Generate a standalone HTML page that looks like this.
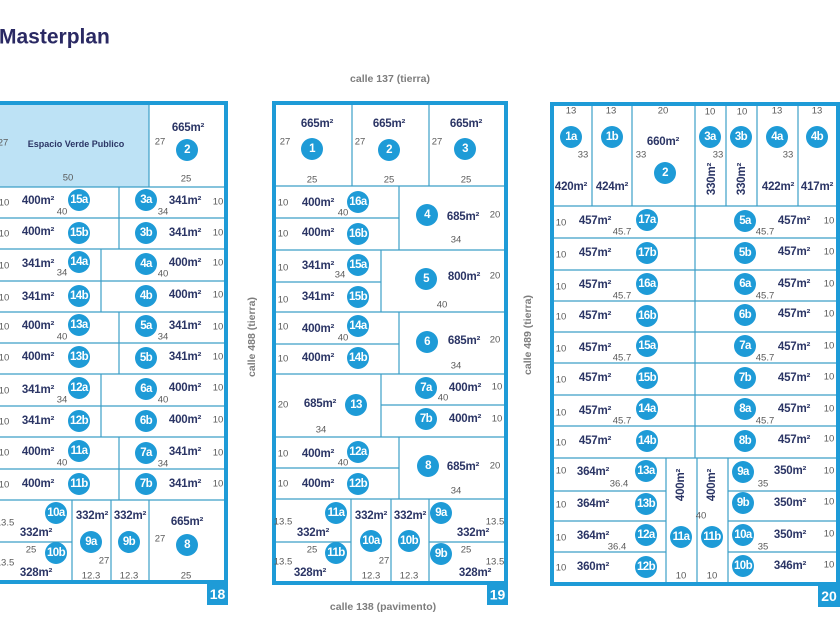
<!DOCTYPE html>
<html><head><meta charset="utf-8"><style>
html,body{margin:0;padding:0;background:#fff;width:840px;height:630px;overflow:hidden}
svg{display:block}
text{font-family:"Liberation Sans",sans-serif;dominant-baseline:central;text-anchor:middle}
.o{fill:none;stroke:#1e9bd7;stroke-width:4}
.l{stroke:#3c9fc8;stroke-width:1.2;fill:none}
.a{font-weight:bold;font-size:11.5px;fill:#2b3565;letter-spacing:-0.2px}
.d{font-size:9.5px;fill:#5a5a5a}
.c{fill:#1e9bd7}
.n{font-weight:bold;font-size:11.5px;fill:#fff;letter-spacing:-0.6px}
.s{font-weight:bold;font-size:10.5px;fill:#7d7d7d}
.bx{fill:#1e9bd7}
.bn{font-weight:bold;font-size:14px;fill:#fff}
</style></head><body>
<svg width="840" height="630" viewBox="0 0 840 630" xmlns="http://www.w3.org/2000/svg">
<text x="-1" y="37" style="font-weight:bold;font-size:21px;fill:#2a2963;text-anchor:start">Masterplan</text>
<text class="s" x="390" y="79">calle 137 (tierra)</text>
<text class="s" x="383" y="607">calle 138 (pavimento)</text>
<text class="s" transform="translate(252,337) rotate(-90)" x="0" y="0">calle 488 (tierra)</text>
<text class="s" transform="translate(528,335) rotate(-90)" x="0" y="0">calle 489 (tierra)</text>

<!-- ===== BLOCK 18 ===== -->
<rect x="-10" y="105" width="159" height="82" fill="#bde2f5"/>
<g class="l">
<line x1="149" y1="105" x2="149" y2="187"/>
<line x1="-10" y1="187" x2="224" y2="187"/><line x1="-10" y1="218" x2="224" y2="218"/>
<line x1="-10" y1="249" x2="224" y2="249"/><line x1="-10" y1="281" x2="224" y2="281"/>
<line x1="-10" y1="312" x2="224" y2="312"/><line x1="-10" y1="343" x2="224" y2="343"/>
<line x1="-10" y1="374" x2="224" y2="374"/><line x1="-10" y1="406" x2="224" y2="406"/>
<line x1="-10" y1="437" x2="224" y2="437"/><line x1="-10" y1="469" x2="224" y2="469"/>
<line x1="-10" y1="500" x2="224" y2="500"/>
<line x1="119" y1="187" x2="119" y2="249"/><line x1="101" y1="249" x2="101" y2="312"/>
<line x1="119" y1="312" x2="119" y2="374"/><line x1="101" y1="374" x2="101" y2="437"/>
<line x1="119" y1="437" x2="119" y2="500"/>
<line x1="72" y1="500" x2="72" y2="582"/><line x1="111" y1="500" x2="111" y2="582"/>
<line x1="149" y1="500" x2="149" y2="582"/><line x1="-10" y1="542" x2="72" y2="542"/>
</g>
<rect class="o" x="-10" y="103" width="236" height="479"/>
<rect class="bx" x="207" y="582" width="21" height="23"/><text class="bn" x="217.5" y="594">18</text>

<text class="d" x="3" y="143">27</text>
<text x="76" y="144" style="font-weight:bold;font-size:9px;fill:#2b3565">Espacio Verde Publico</text>
<text class="d" x="68" y="178">50</text>
<text class="a" x="188" y="128">665m²</text><circle class="c" cx="187" cy="150" r="11"/><text class="n" x="187" y="150">2</text>
<text class="d" x="160" y="142">27</text><text class="d" x="186" y="179">25</text>

<!-- rows -->
<text class="d" x="4" y="203">10</text><text class="a" x="38" y="201">400m²</text><circle class="c" cx="79" cy="200" r="11"/><text class="n" x="79" y="200">15a</text><text class="d" x="62" y="212">40</text>
<circle class="c" cx="146" cy="200" r="11"/><text class="n" x="146" y="200">3a</text><text class="a" x="185" y="201">341m²</text><text class="d" x="163" y="212">34</text><text class="d" x="218" y="202">10</text>

<text class="d" x="4" y="234">10</text><text class="a" x="38" y="232">400m²</text><circle class="c" cx="79" cy="233" r="11"/><text class="n" x="79" y="233">15b</text>
<circle class="c" cx="146" cy="233" r="11"/><text class="n" x="146" y="233">3b</text><text class="a" x="185" y="233">341m²</text><text class="d" x="218" y="233">10</text>

<text class="d" x="4" y="266">10</text><text class="a" x="38" y="264">341m²</text><circle class="c" cx="79" cy="262" r="11"/><text class="n" x="79" y="262">14a</text><text class="d" x="62" y="273">34</text>
<circle class="c" cx="146" cy="264" r="11"/><text class="n" x="146" y="264">4a</text><text class="a" x="185" y="263">400m²</text><text class="d" x="163" y="274">40</text><text class="d" x="218" y="263">10</text>

<text class="d" x="4" y="298">10</text><text class="a" x="38" y="297">341m²</text><circle class="c" cx="79" cy="296" r="11"/><text class="n" x="79" y="296">14b</text>
<circle class="c" cx="146" cy="296" r="11"/><text class="n" x="146" y="296">4b</text><text class="a" x="185" y="295">400m²</text><text class="d" x="218" y="295">10</text>

<text class="d" x="4" y="327">10</text><text class="a" x="38" y="326">400m²</text><circle class="c" cx="79" cy="325" r="11"/><text class="n" x="79" y="325">13a</text><text class="d" x="62" y="337">40</text>
<circle class="c" cx="146" cy="326" r="11"/><text class="n" x="146" y="326">5a</text><text class="a" x="185" y="326">341m²</text><text class="d" x="163" y="337">34</text><text class="d" x="218" y="327">10</text>

<text class="d" x="4" y="358">10</text><text class="a" x="38" y="357">400m²</text><circle class="c" cx="79" cy="357" r="11"/><text class="n" x="79" y="357">13b</text>
<circle class="c" cx="146" cy="358" r="11"/><text class="n" x="146" y="358">5b</text><text class="a" x="185" y="357">341m²</text><text class="d" x="218" y="357">10</text>

<text class="d" x="4" y="391">10</text><text class="a" x="38" y="390">341m²</text><circle class="c" cx="79" cy="388" r="11"/><text class="n" x="79" y="388">12a</text><text class="d" x="62" y="400">34</text>
<circle class="c" cx="146" cy="389" r="11"/><text class="n" x="146" y="389">6a</text><text class="a" x="185" y="388">400m²</text><text class="d" x="163" y="400">40</text><text class="d" x="218" y="388">10</text>

<text class="d" x="4" y="422">10</text><text class="a" x="38" y="421">341m²</text><circle class="c" cx="79" cy="421" r="11"/><text class="n" x="79" y="421">12b</text>
<circle class="c" cx="146" cy="421" r="11"/><text class="n" x="146" y="421">6b</text><text class="a" x="185" y="420">400m²</text><text class="d" x="218" y="420">10</text>

<text class="d" x="4" y="453">10</text><text class="a" x="38" y="452">400m²</text><circle class="c" cx="79" cy="451" r="11"/><text class="n" x="79" y="451">11a</text><text class="d" x="62" y="463">40</text>
<circle class="c" cx="146" cy="453" r="11"/><text class="n" x="146" y="453">7a</text><text class="a" x="185" y="452">341m²</text><text class="d" x="163" y="464">34</text><text class="d" x="218" y="453">10</text>

<text class="d" x="4" y="485">10</text><text class="a" x="38" y="484">400m²</text><circle class="c" cx="79" cy="484" r="11"/><text class="n" x="79" y="484">11b</text>
<circle class="c" cx="146" cy="484" r="11"/><text class="n" x="146" y="484">7b</text><text class="a" x="185" y="484">341m²</text><text class="d" x="218" y="484">10</text>

<!-- bottom 18 -->
<circle class="c" cx="56" cy="513" r="11"/><text class="n" x="56" y="513">10a</text><text class="d" x="5" y="523">13.5</text><text class="a" x="36" y="533">332m²</text>
<circle class="c" cx="56" cy="553" r="11"/><text class="n" x="56" y="553">10b</text><text class="d" x="31" y="550">25</text><text class="d" x="5" y="563">13.5</text><text class="a" x="36" y="573">328m²</text>
<text class="a" x="92" y="516">332m²</text><circle class="c" cx="91" cy="542" r="11"/><text class="n" x="91" y="542">9a</text><text class="d" x="104" y="561">27</text><text class="d" x="91" y="576">12.3</text>
<text class="a" x="130" y="516">332m²</text><circle class="c" cx="129" cy="542" r="11"/><text class="n" x="129" y="542">9b</text><text class="d" x="129" y="576">12.3</text>
<text class="a" x="187" y="522">665m²</text><circle class="c" cx="187" cy="545" r="11"/><text class="n" x="187" y="545">8</text><text class="d" x="160" y="539">27</text><text class="d" x="186" y="576">25</text>

<!-- ===== BLOCK 19 ===== -->
<g class="l">
<line x1="352" y1="105" x2="352" y2="186"/><line x1="429" y1="105" x2="429" y2="186"/>
<line x1="276" y1="186" x2="504" y2="186"/><line x1="276" y1="250" x2="504" y2="250"/>
<line x1="276" y1="312" x2="504" y2="312"/><line x1="276" y1="374" x2="504" y2="374"/>
<line x1="276" y1="437" x2="504" y2="437"/><line x1="276" y1="499" x2="504" y2="499"/>
<line x1="276" y1="218" x2="399" y2="218"/><line x1="276" y1="282" x2="381" y2="282"/>
<line x1="276" y1="344" x2="399" y2="344"/><line x1="276" y1="468" x2="399" y2="468"/>
<line x1="381" y1="405" x2="504" y2="405"/>
<line x1="399" y1="186" x2="399" y2="250"/><line x1="381" y1="250" x2="381" y2="312"/>
<line x1="399" y1="312" x2="399" y2="374"/><line x1="381" y1="374" x2="381" y2="437"/>
<line x1="399" y1="437" x2="399" y2="499"/>
<line x1="351" y1="499" x2="351" y2="583"/><line x1="391" y1="499" x2="391" y2="583"/>
<line x1="429" y1="499" x2="429" y2="583"/>
<line x1="276" y1="542" x2="351" y2="542"/><line x1="429" y1="542" x2="504" y2="542"/>
</g>
<rect class="o" x="274" y="103" width="232" height="480"/>
<rect class="bx" x="487" y="583" width="21" height="22"/><text class="bn" x="497.5" y="594.5">19</text>

<text class="a" x="317" y="124">665m²</text><circle class="c" cx="312" cy="149" r="11"/><text class="n" x="312" y="149">1</text><text class="d" x="285" y="142">27</text><text class="d" x="312" y="180">25</text>
<text class="a" x="389" y="124">665m²</text><circle class="c" cx="389" cy="150" r="11"/><text class="n" x="389" y="150">2</text><text class="d" x="360" y="142">27</text><text class="d" x="389" y="180">25</text>
<text class="a" x="466" y="124">665m²</text><circle class="c" cx="465" cy="149" r="11"/><text class="n" x="465" y="149">3</text><text class="d" x="437" y="142">27</text><text class="d" x="466" y="180">25</text>

<text class="d" x="283" y="203">10</text><text class="a" x="318" y="203">400m²</text><circle class="c" cx="358" cy="202" r="11"/><text class="n" x="358" y="202">16a</text><text class="d" x="343" y="213">40</text>
<text class="d" x="283" y="234">10</text><text class="a" x="318" y="233">400m²</text><circle class="c" cx="358" cy="234" r="11"/><text class="n" x="358" y="234">16b</text>
<circle class="c" cx="427" cy="215" r="11"/><text class="n" x="427" y="215">4</text><text class="a" x="463" y="217">685m²</text><text class="d" x="495" y="215">20</text><text class="d" x="456" y="240">34</text>

<text class="d" x="283" y="268">10</text><text class="a" x="318" y="266">341m²</text><circle class="c" cx="358" cy="265" r="11"/><text class="n" x="358" y="265">15a</text><text class="d" x="340" y="275">34</text>
<text class="d" x="283" y="300">10</text><text class="a" x="318" y="297">341m²</text><circle class="c" cx="358" cy="297" r="11"/><text class="n" x="358" y="297">15b</text>
<circle class="c" cx="426" cy="279" r="11"/><text class="n" x="426" y="279">5</text><text class="a" x="464" y="277">800m²</text><text class="d" x="495" y="276">20</text><text class="d" x="442" y="305">40</text>

<text class="d" x="283" y="327">10</text><text class="a" x="318" y="329">400m²</text><circle class="c" cx="358" cy="326" r="11"/><text class="n" x="358" y="326">14a</text><text class="d" x="343" y="338">40</text>
<text class="d" x="283" y="359">10</text><text class="a" x="318" y="358">400m²</text><circle class="c" cx="358" cy="358" r="11"/><text class="n" x="358" y="358">14b</text>
<circle class="c" cx="427" cy="342" r="11"/><text class="n" x="427" y="342">6</text><text class="a" x="464" y="341">685m²</text><text class="d" x="495" y="340">20</text><text class="d" x="456" y="366">34</text>

<text class="d" x="283" y="405">20</text><text class="a" x="320" y="404">685m²</text><circle class="c" cx="356" cy="405" r="11"/><text class="n" x="356" y="405">13</text><text class="d" x="321" y="430">34</text>
<circle class="c" cx="426" cy="388" r="11"/><text class="n" x="426" y="388">7a</text><text class="a" x="465" y="388">400m²</text><text class="d" x="497" y="387">10</text><text class="d" x="443" y="398">40</text>
<circle class="c" cx="426" cy="419" r="11"/><text class="n" x="426" y="419">7b</text><text class="a" x="465" y="419">400m²</text><text class="d" x="497" y="419">10</text>

<text class="d" x="283" y="454">10</text><text class="a" x="318" y="454">400m²</text><circle class="c" cx="358" cy="452" r="11"/><text class="n" x="358" y="452">12a</text><text class="d" x="343" y="463">40</text>
<text class="d" x="283" y="484">10</text><text class="a" x="318" y="484">400m²</text><circle class="c" cx="358" cy="484" r="11"/><text class="n" x="358" y="484">12b</text>
<circle class="c" cx="428" cy="466" r="11"/><text class="n" x="428" y="466">8</text><text class="a" x="463" y="467">685m²</text><text class="d" x="495" y="466">20</text><text class="d" x="456" y="491">34</text>

<circle class="c" cx="336" cy="513" r="11"/><text class="n" x="336" y="513">11a</text><text class="d" x="283" y="522">13.5</text><text class="a" x="313" y="533">332m²</text>
<circle class="c" cx="336" cy="553" r="11"/><text class="n" x="336" y="553">11b</text><text class="d" x="312" y="550">25</text><text class="d" x="283" y="562">13.5</text><text class="a" x="310" y="573">328m²</text>
<text class="a" x="371" y="516">332m²</text><circle class="c" cx="371" cy="541" r="11"/><text class="n" x="371" y="541">10a</text><text class="d" x="384" y="561">27</text><text class="d" x="371" y="576">12.3</text>
<text class="a" x="410" y="516">332m²</text><circle class="c" cx="409" cy="541" r="11"/><text class="n" x="409" y="541">10b</text><text class="d" x="409" y="576">12.3</text>
<circle class="c" cx="441" cy="513" r="11"/><text class="n" x="441" y="513">9a</text><text class="d" x="495" y="522">13.5</text><text class="a" x="473" y="533">332m²</text>
<circle class="c" cx="441" cy="554" r="11"/><text class="n" x="441" y="554">9b</text><text class="d" x="466" y="550">25</text><text class="d" x="495" y="562">13.5</text><text class="a" x="475" y="573">328m²</text>

<!-- ===== BLOCK 20 ===== -->
<g class="l">
<line x1="592" y1="106" x2="592" y2="206"/><line x1="632" y1="106" x2="632" y2="206"/>
<line x1="695" y1="106" x2="695" y2="206"/><line x1="726" y1="106" x2="726" y2="206"/>
<line x1="757" y1="106" x2="757" y2="206"/><line x1="798" y1="106" x2="798" y2="206"/>
<line x1="554" y1="206" x2="836" y2="206"/><line x1="554" y1="238" x2="836" y2="238"/>
<line x1="554" y1="270" x2="836" y2="270"/><line x1="554" y1="301" x2="836" y2="301"/>
<line x1="554" y1="332" x2="836" y2="332"/><line x1="554" y1="363" x2="836" y2="363"/>
<line x1="554" y1="395" x2="836" y2="395"/><line x1="554" y1="426" x2="836" y2="426"/>
<line x1="554" y1="458" x2="836" y2="458"/>
<line x1="695" y1="206" x2="695" y2="458"/>
<line x1="666" y1="458" x2="666" y2="584"/><line x1="697" y1="458" x2="697" y2="584"/>
<line x1="728" y1="458" x2="728" y2="584"/>
<line x1="554" y1="491" x2="666" y2="491"/><line x1="554" y1="521" x2="666" y2="521"/><line x1="554" y1="552" x2="666" y2="552"/>
<line x1="728" y1="491" x2="836" y2="491"/><line x1="728" y1="521" x2="836" y2="521"/><line x1="728" y1="552" x2="836" y2="552"/>
</g>
<rect class="o" x="552" y="104" width="286" height="480"/>
<rect class="bx" x="818" y="584" width="22" height="23"/><text class="bn" x="829" y="596">20</text>

<text class="d" x="571" y="111">13</text><circle class="c" cx="571" cy="137" r="11"/><text class="n" x="571" y="137">1a</text><text class="d" x="583" y="155">33</text><text class="a" x="571" y="187">420m²</text>
<text class="d" x="611" y="111">13</text><circle class="c" cx="612" cy="137" r="11"/><text class="n" x="612" y="137">1b</text><text class="a" x="612" y="187">424m²</text>
<text class="d" x="663" y="111">20</text><text class="a" x="663" y="142">660m²</text><text class="d" x="641" y="155">33</text><circle class="c" cx="665" cy="173" r="11"/><text class="n" x="665" y="173">2</text>
<text class="d" x="710" y="112">10</text><circle class="c" cx="710" cy="137" r="11"/><text class="n" x="710" y="137">3a</text><text class="d" x="718" y="155">33</text><text class="a" transform="translate(712,179) rotate(-90)" x="0" y="0">330m²</text>
<text class="d" x="742" y="112">10</text><circle class="c" cx="741" cy="137" r="11"/><text class="n" x="741" y="137">3b</text><text class="a" transform="translate(742,179) rotate(-90)" x="0" y="0">330m²</text>
<text class="d" x="777" y="111">13</text><circle class="c" cx="777" cy="137" r="11"/><text class="n" x="777" y="137">4a</text><text class="d" x="788" y="155">33</text><text class="a" x="778" y="187">422m²</text>
<text class="d" x="817" y="111">13</text><circle class="c" cx="817" cy="137" r="11"/><text class="n" x="817" y="137">4b</text><text class="a" x="817" y="187">417m²</text>

<!-- rows 20 -->
<text class="d" x="561" y="223">10</text><text class="a" x="595" y="221">457m²</text><circle class="c" cx="647" cy="220" r="11"/><text class="n" x="647" y="220">17a</text><text class="d" x="622" y="232">45.7</text>
<circle class="c" cx="745" cy="221" r="11"/><text class="n" x="745" y="221">5a</text><text class="a" x="794" y="221">457m²</text><text class="d" x="829" y="221">10</text><text class="d" x="765" y="232">45.7</text>
<text class="d" x="561" y="255">10</text><text class="a" x="595" y="253">457m²</text><circle class="c" cx="647" cy="253" r="11"/><text class="n" x="647" y="253">17b</text>
<circle class="c" cx="745" cy="253" r="11"/><text class="n" x="745" y="253">5b</text><text class="a" x="794" y="252">457m²</text><text class="d" x="829" y="252">10</text>

<text class="d" x="561" y="287">10</text><text class="a" x="595" y="285">457m²</text><circle class="c" cx="647" cy="284" r="11"/><text class="n" x="647" y="284">16a</text><text class="d" x="622" y="296">45.7</text>
<circle class="c" cx="745" cy="284" r="11"/><text class="n" x="745" y="284">6a</text><text class="a" x="794" y="284">457m²</text><text class="d" x="829" y="284">10</text><text class="d" x="765" y="296">45.7</text>
<text class="d" x="561" y="317">10</text><text class="a" x="595" y="316">457m²</text><circle class="c" cx="647" cy="316" r="11"/><text class="n" x="647" y="316">16b</text>
<circle class="c" cx="745" cy="315" r="11"/><text class="n" x="745" y="315">6b</text><text class="a" x="794" y="314">457m²</text><text class="d" x="829" y="314">10</text>

<text class="d" x="561" y="349">10</text><text class="a" x="595" y="348">457m²</text><circle class="c" cx="647" cy="346" r="11"/><text class="n" x="647" y="346">15a</text><text class="d" x="622" y="358">45.7</text>
<circle class="c" cx="745" cy="346" r="11"/><text class="n" x="745" y="346">7a</text><text class="a" x="794" y="347">457m²</text><text class="d" x="829" y="346">10</text><text class="d" x="765" y="358">45.7</text>
<text class="d" x="561" y="380">10</text><text class="a" x="595" y="378">457m²</text><circle class="c" cx="647" cy="378" r="11"/><text class="n" x="647" y="378">15b</text>
<circle class="c" cx="745" cy="378" r="11"/><text class="n" x="745" y="378">7b</text><text class="a" x="794" y="378">457m²</text><text class="d" x="829" y="377">10</text>

<text class="d" x="561" y="413">10</text><text class="a" x="595" y="411">457m²</text><circle class="c" cx="647" cy="409" r="11"/><text class="n" x="647" y="409">14a</text><text class="d" x="622" y="421">45.7</text>
<circle class="c" cx="745" cy="409" r="11"/><text class="n" x="745" y="409">8a</text><text class="a" x="794" y="409">457m²</text><text class="d" x="829" y="409">10</text><text class="d" x="765" y="421">45.7</text>
<text class="d" x="561" y="443">10</text><text class="a" x="595" y="441">457m²</text><circle class="c" cx="647" cy="441" r="11"/><text class="n" x="647" y="441">14b</text>
<circle class="c" cx="745" cy="441" r="11"/><text class="n" x="745" y="441">8b</text><text class="a" x="794" y="440">457m²</text><text class="d" x="829" y="439">10</text>

<!-- bottom 20 -->
<text class="d" x="561" y="471">10</text><text class="a" x="593" y="472">364m²</text><circle class="c" cx="646" cy="471" r="11"/><text class="n" x="646" y="471">13a</text><text class="d" x="619" y="484">36.4</text>
<text class="d" x="561" y="505">10</text><text class="a" x="593" y="504">364m²</text><circle class="c" cx="646" cy="504" r="11"/><text class="n" x="646" y="504">13b</text>
<text class="d" x="561" y="538">10</text><text class="a" x="593" y="536">364m²</text><circle class="c" cx="646" cy="535" r="11"/><text class="n" x="646" y="535">12a</text><text class="d" x="617" y="547">36.4</text>
<text class="d" x="561" y="568">10</text><text class="a" x="593" y="567">360m²</text><circle class="c" cx="646" cy="567" r="11"/><text class="n" x="646" y="567">12b</text>
<text class="a" transform="translate(681,485) rotate(-90)" x="0" y="0">400m²</text><circle class="c" cx="681" cy="537" r="11"/><text class="n" x="681" y="537">11a</text><text class="d" x="681" y="576">10</text>
<text class="a" transform="translate(712,485) rotate(-90)" x="0" y="0">400m²</text><text class="d" x="701" y="516">40</text><circle class="c" cx="712" cy="537" r="11"/><text class="n" x="712" y="537">11b</text><text class="d" x="712" y="576">10</text>
<circle class="c" cx="743" cy="472" r="11"/><text class="n" x="743" y="472">9a</text><text class="a" x="790" y="471">350m²</text><text class="d" x="829" y="471">10</text><text class="d" x="763" y="484">35</text>
<circle class="c" cx="743" cy="503" r="11"/><text class="n" x="743" y="503">9b</text><text class="a" x="790" y="503">350m²</text><text class="d" x="829" y="502">10</text>
<circle class="c" cx="743" cy="535" r="11"/><text class="n" x="743" y="535">10a</text><text class="a" x="790" y="535">350m²</text><text class="d" x="829" y="534">10</text><text class="d" x="763" y="547">35</text>
<circle class="c" cx="743" cy="566" r="11"/><text class="n" x="743" y="566">10b</text><text class="a" x="790" y="566">346m²</text><text class="d" x="829" y="565">10</text>
</svg>
</body></html>
